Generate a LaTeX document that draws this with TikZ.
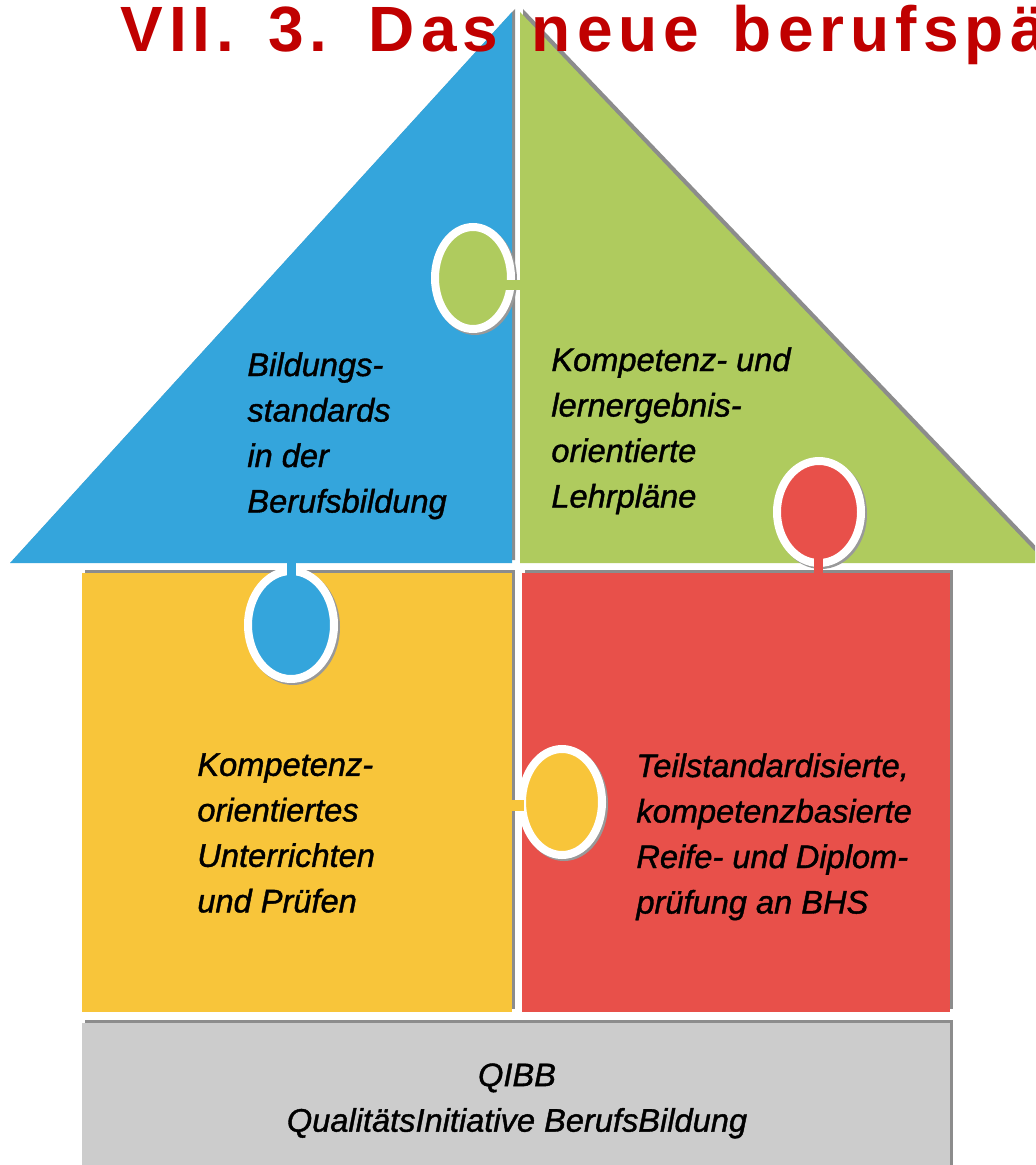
\documentclass[tikz,border=0pt]{standalone}
\usepackage{fontspec}
\setmainfont{Liberation Sans}
\newfontfamily\titlefont[LetterSpace=9.5,WordSpace=1.4]{Liberation Sans}
\newfontfamily\piecefont[FakeBold=1.2]{Liberation Sans}
\definecolor{roofblue}{RGB}{52,165,220}
\definecolor{roofgreen}{RGB}{175,203,94}
\definecolor{wallyellow}{RGB}{248,197,58}
\definecolor{wallred}{RGB}{232,80,74}
\definecolor{basegray}{RGB}{204,204,204}
\definecolor{titlered}{RGB}{192,0,0}
\tikzset{
  shadeline/.style={fill=black!60, opacity=0.75},
  knob/.style={draw=white, line width=4pt, fill=#1},
  knobshadow/.style={draw=black!40, line width=4pt},
  piecetext/.style={font=\piecefont\fontsize{16.3}{22.75}\selectfont\itshape, align=left, anchor=north west, inner sep=0pt}
}
\begin{document}
\begin{tikzpicture}[x=0.5pt,y=-0.5pt]
  \clip (0,0) rectangle (1035,1165);
  \fill[white] (0,0) rectangle (1035,1165);
  % shadows of the pieces
  \begin{scope}[shift={(3,-3)}]
    \fill[shadeline] (10,563) -- (512,12) -- (512,563) -- cycle;
    \fill[shadeline] (520,12) -- (1046,563) -- (520,563) -- cycle;
    \fill[shadeline] (82,573) rectangle (512,1012);
    \fill[shadeline] (522,573) rectangle (950,1012);
    \fill[shadeline] (82,1023) rectangle (950,1175);
  \end{scope}
  % pieces
  \fill[roofblue] (10,563) -- (512,12) -- (512,563) -- cycle;
  \fill[roofgreen] (520,12) -- (1046,563) -- (520,563) -- cycle;
  \fill[wallyellow] (82,573) rectangle (512,1012);
  \fill[wallred] (522,573) rectangle (950,1012);
  \fill[basegray] (82,1023) rectangle (950,1175);
  % knobs
  \draw[knobshadow] (475,280) ellipse [x radius=38, y radius=51];
  \draw[knob=roofgreen] (473,278) ellipse [x radius=38, y radius=51];
  \fill[roofgreen] (500,280) rectangle (521,290);
  \draw[knobshadow] (293,627) ellipse [x radius=43, y radius=54];
  \draw[knob=roofblue] (291,625) ellipse [x radius=43, y radius=54];
  \fill[roofblue] (287,558) rectangle (296,580);
  \draw[knobshadow] (821,514) ellipse [x radius=42, y radius=51];
  \draw[knob=wallred] (819,512) ellipse [x radius=42, y radius=51];
  \fill[wallred] (814,555) rectangle (823,576);
  \draw[knobshadow] (564,804) ellipse [x radius=40, y radius=53];
  \draw[knob=wallyellow] (562,802) ellipse [x radius=40, y radius=53];
  \fill[wallyellow] (508,800) rectangle (524,811);
  % texts
  \node[piecetext] (standards) at (247,352) {Bildungs-\\standards\\in der\\Berufsbildung};
  \node[piecetext] (lehrplaene) at (551,347) {Kompetenz- und\\lernergebnis-\\orientierte\\Lehrpläne};
  \node[piecetext] (unterricht) at (197,753) {Kompetenz-\\orientiertes\\Unterrichten\\und Prüfen};
  \node[piecetext] (pruefung) at (636,753) {Teilstandardisierte,\\kompetenzbasierte\\Reife- und Diplom-\\prüfung an BHS};
  \node[piecetext, anchor=north, align=center] (qibb) at (517,1063) {QIBB\\QualitätsInitiative BerufsBildung};
  \node[anchor=base west, inner sep=0pt, text=titlered, font=\titlefont\bfseries\fontsize{32}{36}\selectfont] (title) at (120,52) {VII. 3. Das neue berufspä};
\end{tikzpicture}
\end{document}
